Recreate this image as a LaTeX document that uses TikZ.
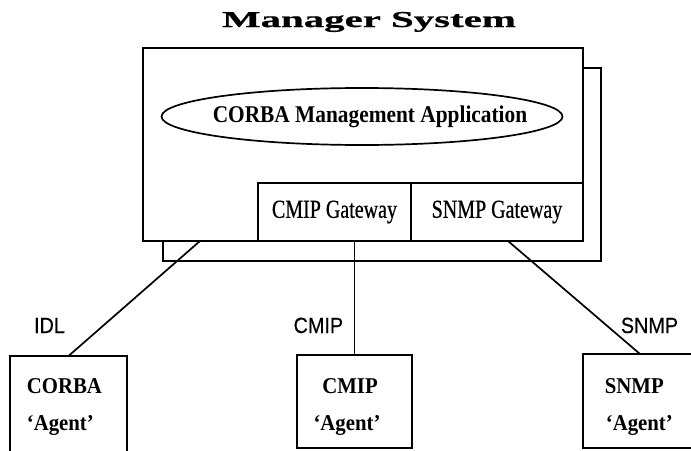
\documentclass[tikz,border=0pt]{standalone}
\usepackage{fontspec}
\setmainfont{Liberation Serif}
\newfontfamily\titlefont[FakeStretch=1.8,FakeBold=0.8]{Liberation Serif}
\newfontfamily\ovalfont[FakeStretch=0.89]{Liberation Serif}
\newfontfamily\gwfont[FakeStretch=0.77,FakeBold=0.6]{Liberation Serif}
\newfontfamily\agentfont[FakeStretch=0.92]{Liberation Serif}
\newfontfamily\protofont[FakeStretch=0.9,FakeBold=0.4]{Liberation Sans}
\usetikzlibrary{shapes.geometric}

\begin{document}
\begin{tikzpicture}[x=1pt, y=-1pt, line width=1.7pt,
  box/.style={draw, rectangle, inner sep=0pt, outer sep=0pt, fill=white},
  gwtext/.style={box, font=\gwfont\fontsize{26}{30}\selectfont},
  agtext/.style={font=\agentfont\bfseries\fontsize{22.6}{26}\selectfont, inner sep=0pt},
  proto/.style={font=\protofont\fontsize{22}{25}\selectfont, inner sep=0pt, anchor=base}]
\useasboundingbox (0,0) rectangle (691,450);
\clip (0,0) rectangle (691,450);

% title
\node[anchor=base, inner sep=0pt] (title) at (369,27)
  {\titlefont\bfseries\fontsize{22.7}{26}\selectfont Manager System};

% manager system: shadow frame, front frame, application and gateways
\node[box, minimum width=438pt, minimum height=193pt] (shadow) at (382,164.5) {};
\node[box, minimum width=440pt, minimum height=193pt] (mgr) at (363,144.5) {};
\node[draw, ellipse, minimum width=401pt, minimum height=57pt, inner sep=0pt] (app) at (362,116.5) {};
\node[anchor=base, inner sep=0pt] (apptext) at (370,122)
  {\ovalfont\bfseries\fontsize{24}{28}\selectfont CORBA Management Application};
\node[gwtext, minimum width=153pt, minimum height=58pt] (cmipgw) at (334.5,212) {CMIP Gateway};
\node[gwtext, minimum width=171pt, minimum height=58pt] (snmpgw) at (497,212) {SNMP Gateway};

% agents
\node[box, minimum width=117pt, minimum height=114pt] (corba) at (68.5,413) {};
\node[box, minimum width=115pt, minimum height=93pt] (cmip) at (354.5,401.5) {};
\node[box, minimum width=114pt, minimum height=94pt] (snmp) at (640,401) {};

\node[agtext, anchor=base west] (corbaname) at (26,393) {CORBA};
\node[agtext, anchor=base west] (corbaag) at (26,430) {‘Agent’};
\node[agtext, anchor=base] (cmipname) at (350,393) {CMIP};
\node[agtext, anchor=base] (cmipag) at (347,430) {‘Agent’};
\node[agtext, anchor=base west] (snmpname) at (604,393) {SNMP};
\node[agtext, anchor=base west] (snmpag) at (605,430) {‘Agent’};

% connections
\coordinate (idlport) at (200,241);
\coordinate (snmpport) at (508,241);
\draw (idlport) -- (corba.north);
\draw (cmip.north) -- (cmip.north |- mgr.south);
\draw (snmpport) -- (snmp.north);

\node[proto] (idl) at (49.5,333) {IDL};
\node[proto, anchor=base east] (cmipproto) at (344,333) {CMIP};
\node[proto] (snmpproto) at (649.5,333) {SNMP};
\end{tikzpicture}
\end{document}
